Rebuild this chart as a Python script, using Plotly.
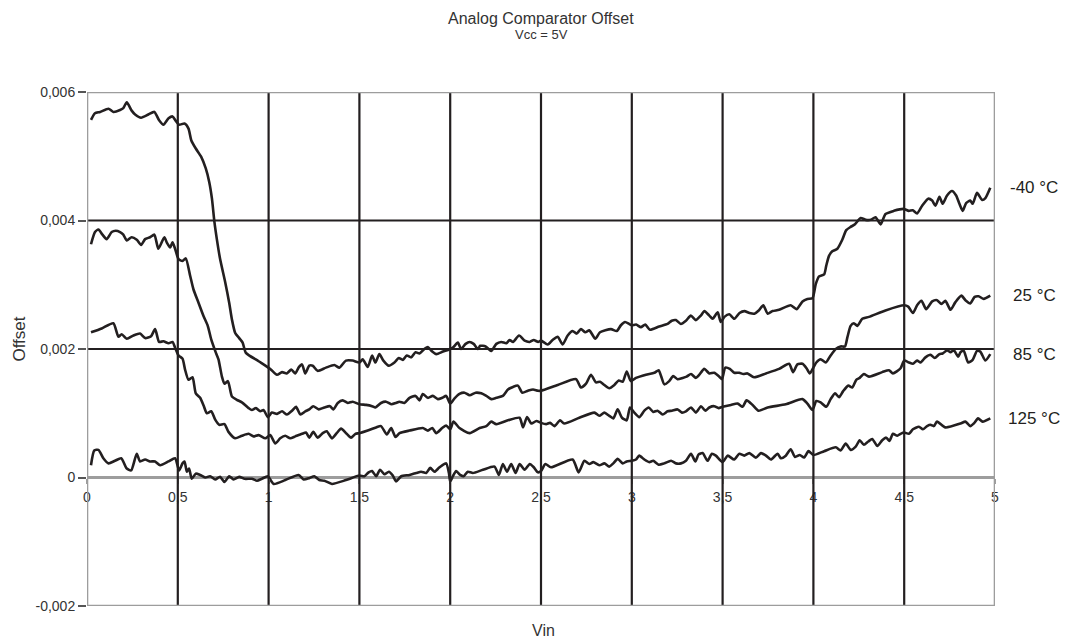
"""Analog comparator offset vs. input voltage for four temperatures."""

import plotly.graph_objects as go

LINE = "#231f20"
FRAME = "#9d9d9d"
TEXT = "#333333"
FONT = "Liberation Sans, Arial, sans-serif"

# -40 °C
x_m40 = [0.022, 0.044, 0.072, 0.118, 0.145, 0.182, 0.2, 0.219, 0.246, 0.265, 0.298, 0.338, 0.371, 0.397,
         0.421, 0.449, 0.471, 0.489, 0.507, 0.537, 0.559, 0.574, 0.599, 0.629, 0.654, 0.673, 0.688, 0.702,
         0.715, 0.733, 0.761, 0.783, 0.798, 0.816, 0.838, 0.857, 0.875, 0.945, 1.009, 1.046, 1.074, 1.1,
         1.125, 1.147, 1.165, 1.184, 1.202,
         1.224, 1.243, 1.27, 1.316, 1.362, 1.39, 1.426, 1.463, 1.5, 1.518, 1.546, 1.57, 1.588, 1.61, 1.632,
         1.662, 1.693, 1.717, 1.739, 1.761, 1.785, 1.809, 1.831, 1.858, 1.877, 1.901, 1.923, 1.96, 2.0,
         2.018, 2.042, 2.06, 2.085, 2.107, 2.129, 2.153, 2.165, 2.195, 2.226, 2.254, 2.281, 2.309, 2.327,
         2.346, 2.379, 2.41, 2.438, 2.46, 2.484,
         2.5, 2.537, 2.564, 2.592, 2.619, 2.647, 2.674, 2.696, 2.72, 2.744, 2.766, 2.799, 2.825, 2.885,
         2.917, 2.94, 2.963, 2.985, 3.0, 3.024, 3.05, 3.074, 3.1, 3.151, 3.197, 3.22, 3.243, 3.27, 3.298,
         3.325, 3.353, 3.38, 3.4, 3.427, 3.445, 3.473, 3.49, 3.51, 3.537, 3.565, 3.593, 3.62, 3.648, 3.675,
         3.699, 3.724, 3.748,
         3.775, 3.811, 3.875, 3.907, 3.94, 3.967, 3.995, 4.013, 4.031, 4.059, 4.071, 4.086, 4.104, 4.132,
         4.159, 4.181, 4.205, 4.229, 4.26, 4.288, 4.315, 4.342, 4.37, 4.397, 4.443, 4.498, 4.525, 4.547,
         4.571, 4.599, 4.632, 4.654, 4.672, 4.694, 4.712, 4.736, 4.763, 4.786, 4.804, 4.822, 4.841, 4.864,
         4.877, 4.901, 4.929, 4.947, 4.974]
y_m40 = [0.005565, 0.00567, 0.00569, 0.00574, 0.00569, 0.00572, 0.00575, 0.00584, 0.00571, 0.00565, 0.0056,
         0.00565, 0.00569, 0.00556, 0.00549, 0.00559, 0.00562, 0.00555, 0.00549, 0.00551, 0.00543, 0.00525,
         0.00512, 0.00499, 0.00481, 0.0046, 0.00434, 0.00397, 0.00371, 0.0034, 0.00304, 0.00272, 0.00246,
         0.00225, 0.00217, 0.0021, 0.00194, 0.00181, 0.00169, 0.0016, 0.00164, 0.00162, 0.00168, 0.00162,
         0.00171, 0.00176, 0.00162,
         0.00174, 0.00174, 0.00166, 0.00171, 0.00175, 0.00171, 0.00182, 0.00182, 0.00179, 0.00184, 0.00172,
         0.0019, 0.00179, 0.00192, 0.00182, 0.00174, 0.00179, 0.00186, 0.00183, 0.0019, 0.00187, 0.00195,
         0.00193, 0.002, 0.00203, 0.00196, 0.00192, 0.00196, 0.002, 0.00203, 0.0021, 0.002, 0.00208, 0.00211,
         0.00208, 0.002, 0.00205, 0.00204, 0.00197, 0.00208, 0.00211, 0.00209, 0.00214, 0.00211, 0.00221,
         0.00213, 0.00211, 0.00214, 0.00211,
         0.00213, 0.00207, 0.00214, 0.00219, 0.00207, 0.00221, 0.00228, 0.00224, 0.00231, 0.00226, 0.00229,
         0.00216, 0.00226, 0.00231, 0.00228, 0.00237, 0.00242, 0.00239, 0.00237, 0.00238, 0.00234, 0.00238,
         0.0023, 0.00235, 0.00239, 0.00244, 0.00245, 0.00239, 0.00244, 0.00252, 0.00245, 0.00252, 0.00259,
         0.00252, 0.00247, 0.00257, 0.00242, 0.0025, 0.00254, 0.00247, 0.00256, 0.00259, 0.00256, 0.00255,
         0.0026, 0.00268, 0.00255,
         0.00259, 0.00261, 0.00268, 0.00262, 0.00274, 0.00278, 0.00279, 0.00301, 0.00313, 0.00316, 0.0033,
         0.00345, 0.00352, 0.00356, 0.0037, 0.00385, 0.0039, 0.00394, 0.00404, 0.00401, 0.00401, 0.00405,
         0.00394, 0.0041, 0.00415, 0.00418, 0.00415, 0.00416, 0.00411, 0.00423, 0.00434, 0.00431, 0.00423,
         0.00437, 0.00426, 0.00439, 0.00446, 0.00439, 0.00426, 0.00415, 0.00427, 0.00431, 0.00426, 0.00443,
         0.00432, 0.00435, 0.00451]

# 25 °C
x_25 = [0.022, 0.044, 0.063, 0.085, 0.108, 0.136, 0.158, 0.182, 0.2, 0.219, 0.246, 0.274, 0.298, 0.32, 0.347,
        0.371, 0.393, 0.426, 0.439, 0.458, 0.471, 0.485, 0.504, 0.526, 0.544, 0.568, 0.586, 0.614, 0.642,
        0.665, 0.684, 0.71, 0.724, 0.743, 0.757, 0.776, 0.798, 0.825, 0.853, 0.89, 0.908, 0.93, 0.954, 0.972,
        0.996, 1.018, 1.046, 1.074, 1.101, 1.129, 1.151, 1.175, 1.202,
        1.224, 1.246, 1.276, 1.307, 1.338, 1.357, 1.381, 1.408, 1.436, 1.463, 1.5, 1.537, 1.57, 1.588, 1.619,
        1.647, 1.675, 1.702, 1.72, 1.748, 1.776, 1.809, 1.831, 1.849, 1.877, 1.904, 1.932, 1.956, 1.978, 2.0,
        2.024, 2.051, 2.079, 2.107, 2.14, 2.171, 2.199, 2.226, 2.254, 2.29, 2.318, 2.346, 2.373, 2.397, 2.428,
        2.456, 2.483,
        2.5, 2.592, 2.693, 2.72, 2.748, 2.775, 2.803, 2.825, 2.849, 2.876, 2.904, 2.928, 2.95, 2.972, 2.995,
        3.023, 3.078, 3.124, 3.148, 3.161, 3.179, 3.206, 3.228, 3.252, 3.28, 3.302, 3.326, 3.353, 3.372,
        3.399, 3.427, 3.454, 3.478, 3.496, 3.515, 3.54, 3.564, 3.592, 3.614, 3.637, 3.673, 3.739,
        3.811, 3.866, 3.888, 3.912, 3.94, 3.962, 3.98, 4.0, 4.016, 4.04, 4.068, 4.095, 4.123, 4.15, 4.174,
        4.187, 4.205, 4.223, 4.242, 4.269, 4.306, 4.397, 4.5, 4.522, 4.548, 4.571, 4.595, 4.621, 4.654, 4.681,
        4.705, 4.727, 4.755, 4.782, 4.815, 4.837, 4.864, 4.888, 4.91, 4.938, 4.974]
y_25 = [0.00363, 0.00382, 0.00386, 0.00378, 0.00371, 0.00382, 0.00384, 0.00382, 0.00378, 0.00369, 0.00374,
        0.0037, 0.00362, 0.00371, 0.00374, 0.00378, 0.00356, 0.00374, 0.00366, 0.00358, 0.00366, 0.00356,
        0.0034, 0.00337, 0.00341, 0.00314, 0.00293, 0.00272, 0.00251, 0.00236, 0.00215, 0.00194, 0.00184,
        0.00157, 0.00146, 0.0015, 0.00126, 0.00121, 0.00117, 0.00108, 0.00105, 0.00108, 0.00103, 0.00105,
        0.00094, 0.00101, 0.00099, 0.00103, 0.00098, 0.00104, 0.0011, 0.00098, 0.00103,
        0.00106, 0.00111, 0.00106, 0.00109, 0.00111, 0.00106, 0.00116, 0.0012, 0.00116, 0.00118, 0.00114,
        0.00113, 0.00111, 0.00109, 0.00116, 0.00118, 0.00114, 0.00116, 0.00118, 0.00116, 0.00124, 0.00127,
        0.0012, 0.0013, 0.00124, 0.00127, 0.00122, 0.00124, 0.00127, 0.00115, 0.00123, 0.0013, 0.00132,
        0.00128, 0.00132, 0.00131, 0.00127, 0.00122, 0.00124, 0.00127, 0.00137, 0.00141, 0.00143, 0.00132,
        0.00135, 0.00137, 0.00135,
        0.00135, 0.00144, 0.00153, 0.0014, 0.00146, 0.0016, 0.00148, 0.00149, 0.00144, 0.00139, 0.00144,
        0.00151, 0.00149, 0.00165, 0.0015, 0.00155, 0.0016, 0.00163, 0.00167, 0.00158, 0.00145, 0.0015,
        0.00158, 0.00153, 0.00155, 0.00157, 0.00161, 0.00155, 0.0016, 0.00169, 0.00162, 0.00163, 0.00158,
        0.00153, 0.00171, 0.00169, 0.00163, 0.00163, 0.00161, 0.00162, 0.00156, 0.00162,
        0.00169, 0.00177, 0.00164, 0.00176, 0.00177, 0.0017, 0.00162, 0.00171, 0.00179, 0.00184, 0.00179,
        0.0019, 0.002, 0.00204, 0.00204, 0.00218, 0.00236, 0.0024, 0.00236, 0.00247, 0.0025, 0.0026, 0.00268,
        0.00266, 0.00256, 0.00268, 0.00275, 0.00262, 0.00274, 0.00276, 0.0027, 0.00275, 0.00261, 0.00273,
        0.00283, 0.00276, 0.00271, 0.00281, 0.00282, 0.00278, 0.00283]

# 85 °C
x_85 = [0.022, 0.081, 0.145, 0.173, 0.191, 0.219, 0.256, 0.292, 0.32, 0.353, 0.375, 0.397, 0.421, 0.449,
        0.471, 0.485, 0.504, 0.526, 0.54, 0.559, 0.581, 0.599, 0.623, 0.642, 0.66, 0.684, 0.706, 0.728,
        0.757, 0.779, 0.816, 0.853, 0.89, 0.917, 0.945, 0.982, 1.009, 1.037, 1.064, 1.092, 1.119, 1.147,
        1.184, 1.206,
        1.224, 1.246, 1.27, 1.298, 1.32, 1.349, 1.375, 1.399, 1.43, 1.454, 1.478, 1.5, 1.546, 1.592, 1.619,
        1.651, 1.675, 1.699, 1.721, 1.776, 1.849, 1.877, 1.901, 1.923, 1.956, 1.978, 2.0, 2.018, 2.051,
        2.107, 2.162, 2.199, 2.226, 2.254, 2.318, 2.382, 2.401, 2.423, 2.447, 2.474,
        2.5, 2.528, 2.55, 2.574, 2.605, 2.628, 2.711, 2.794, 2.821, 2.849, 2.876, 2.898, 2.922, 2.946, 2.972,
        2.99, 3.014, 3.041, 3.069, 3.093, 3.118, 3.142, 3.17, 3.197, 3.221, 3.252, 3.276, 3.298, 3.326,
        3.353, 3.381, 3.405, 3.427, 3.454, 3.478, 3.5, 3.546, 3.583, 3.61, 3.632, 3.665, 3.698, 3.748,
        3.848, 3.94, 3.967, 3.995, 4.016, 4.04, 4.071, 4.095, 4.119, 4.141, 4.163, 4.192, 4.214, 4.236, 4.255,
        4.278, 4.306, 4.379, 4.416, 4.438, 4.48, 4.5, 4.526, 4.548, 4.571, 4.59, 4.617, 4.645, 4.668, 4.694,
        4.712, 4.736, 4.755, 4.773, 4.797, 4.81, 4.828, 4.852, 4.877, 4.901, 4.919, 4.947, 4.974]
y_85 = [0.00226, 0.00232, 0.0024, 0.00219, 0.00223, 0.00216, 0.00221, 0.00224, 0.00217, 0.0022, 0.00231,
        0.00211, 0.00212, 0.00209, 0.00211, 0.00202, 0.0019, 0.00185, 0.00168, 0.00152, 0.00156, 0.00131,
        0.00124, 0.00112, 0.001, 0.00103, 0.0009, 0.00082, 0.00083, 0.00071, 0.00061, 0.00065, 0.00068,
        0.00064, 0.00066, 0.00061, 0.00066, 0.00053, 0.00061, 0.00065, 0.00061, 0.00064, 0.00068, 0.0007,
        0.00062, 0.00071, 0.00062, 0.00069, 0.00072, 0.00061, 0.00069, 0.00076, 0.00068, 0.00062, 0.00068,
        0.00069, 0.00073, 0.00078, 0.0008, 0.00067, 0.00077, 0.00063, 0.00069, 0.00073, 0.00077, 0.00073,
        0.00077, 0.00069, 0.00077, 0.00081, 0.00075, 0.00087, 0.00077, 0.00069, 0.00077, 0.0008, 0.00087,
        0.00083, 0.00089, 0.00093, 0.00078, 0.00094, 0.00084, 0.00088,
        0.00085, 0.00083, 0.00085, 0.0008, 0.00089, 0.00084, 0.00093, 0.00101, 0.00096, 0.00101, 0.00096,
        0.00092, 0.00106, 0.00093, 0.00089, 0.00109, 0.00101, 0.00094, 0.00104, 0.00109, 0.00102, 0.00104,
        0.00098, 0.00103, 0.00104, 0.00106, 0.00101, 0.00103, 0.00109, 0.00101, 0.00111, 0.00104, 0.00109,
        0.00111, 0.00108, 0.0011, 0.00113, 0.00115, 0.0011, 0.0012, 0.00113, 0.00104, 0.00109,
        0.00114, 0.00122, 0.00115, 0.00105, 0.00119, 0.00117, 0.0011, 0.00122, 0.00131, 0.00125, 0.00134,
        0.00143, 0.0014, 0.00152, 0.00155, 0.00161, 0.00157, 0.00164, 0.00167, 0.00162, 0.0017, 0.00182,
        0.00179, 0.00177, 0.00182, 0.00179, 0.00187, 0.00191, 0.00186, 0.00192, 0.00193, 0.00198, 0.00195,
        0.00198, 0.00188, 0.00195, 0.00197, 0.00179, 0.00183, 0.00197, 0.00196, 0.00182, 0.00192]

# 125 °C
x_125 = [0.022, 0.04, 0.063, 0.09, 0.118, 0.154, 0.188, 0.219, 0.243, 0.274, 0.292, 0.32, 0.347, 0.375,
         0.403, 0.449, 0.485, 0.507, 0.526, 0.537, 0.55, 0.562, 0.577, 0.599, 0.623, 0.651, 0.678, 0.706,
         0.733, 0.757, 0.783, 0.807, 0.838, 0.868, 0.908, 0.936, 0.963, 0.996, 1.028, 1.092, 1.165, 1.193,
         1.224, 1.252, 1.279, 1.307, 1.349, 1.426, 1.5, 1.528, 1.551, 1.57, 1.592, 1.614, 1.638, 1.662, 1.684,
         1.702, 1.73, 1.776, 1.813, 1.84, 1.868, 1.89, 1.914, 1.938, 1.956, 1.978, 1.993, 2.0, 2.015, 2.033,
         2.055, 2.074, 2.097, 2.125, 2.18, 2.244, 2.268, 2.29, 2.313, 2.336, 2.36, 2.382, 2.41, 2.438, 2.46,
         2.483,
         2.5, 2.524, 2.555, 2.674, 2.707, 2.739, 2.766, 2.788, 2.821, 2.849, 2.876, 2.898, 2.922, 2.95, 2.972,
         3.0, 3.023, 3.041, 3.069, 3.096, 3.118, 3.148, 3.179, 3.216, 3.243, 3.271, 3.298, 3.326, 3.35,
         3.368, 3.39, 3.417, 3.441, 3.463, 3.5, 3.528, 3.564, 3.592, 3.619, 3.647, 3.683, 3.711, 3.739,
         3.766, 3.803,
         3.821, 3.848, 3.875, 3.899, 3.925, 3.949, 3.973, 4.0, 4.059, 4.123, 4.15, 4.178, 4.205, 4.233, 4.255,
         4.278, 4.302, 4.324, 4.352, 4.379, 4.401, 4.419, 4.438, 4.462, 4.48, 4.5, 4.526, 4.548, 4.581,
         4.603, 4.626, 4.645, 4.663, 4.681, 4.727, 4.81, 4.837, 4.864, 4.883, 4.907, 4.932, 4.974]
y_125 = [0.00019, 0.00042, 0.00043, 0.0003, 0.00022, 0.00026, 0.0003, 0.00014, 0.00011, 0.00037, 0.00025,
         0.00028, 0.00025, 0.00025, 0.00019, 0.00025, 0.0003, 0.00011, 0.00022, 0.00025, 0.00009, 0.00014,
         -0.00002, 0.00006, 0.00004, 0.0, 0.00002, -0.00003, 0.00001, -0.00007, 0.00002, -0.00003, 0.00001,
         -0.00002, -0.00002, -0.00005, -0.00002, 0.00002, -0.0001, -0.00004, 0.00004, -0.00003,
         -0.00001, 0.00002, -0.00004, -0.00005, -0.0001, -0.00004, 0.00003, 0.00002, 0.00008, 0.0001, 0.00002,
         0.00012, 0.00005, 0.00009, 0.00003, -0.00006, 0.00002, 0.00004, 0.00007, 0.00009, 0.00007, 0.00015,
         0.00009, 0.00015, 0.00019, 0.00022, 0.00007, -0.00006, 0.00002, 0.0001, 0.00004, 0.00002, 0.00009,
         0.00007, 0.00012, 0.00017, 0.00004, 0.00021, 0.00009, 0.00021, 0.00007, 0.00021, 0.00012, 0.00021,
         0.00016, 0.00008,
         0.0001, 0.00021, 0.00016, 0.00028, 0.00008, 0.00026, 0.00021, 0.00024, 0.00019, 0.00022, 0.00017,
         0.00022, 0.00029, 0.00022, 0.00025, 0.00026, 0.00028, 0.00034, 0.00028, 0.00024, 0.00026, 0.0002,
         0.00022, 0.00026, 0.00022, 0.00022, 0.00026, 0.00037, 0.00025, 0.00036, 0.00038, 0.00026, 0.00037,
         0.00034, 0.00024, 0.00034, 0.00028, 0.00037, 0.00034, 0.00038, 0.00031, 0.00038, 0.00034, 0.00028,
         0.00037,
         0.0003, 0.00034, 0.00044, 0.00032, 0.00035, 0.00031, 0.00041, 0.00035, 0.00041, 0.00047, 0.00042,
         0.00053, 0.00043, 0.00048, 0.00058, 0.00051, 0.00056, 0.0006, 0.00049, 0.00058, 0.00062, 0.00057,
         0.00068, 0.00065, 0.00068, 0.0007, 0.00068, 0.00075, 0.00079, 0.00075, 0.0008, 0.00082, 0.0008,
         0.00087, 0.00078, 0.00084, 0.00087, 0.0008, 0.00084, 0.00092, 0.00087, 0.00092]

series = [
    ("-40 °C", x_m40, y_m40),
    ("25 °C", x_25, y_25),
    ("85 °C", x_85, y_85),
    ("125 °C", x_125, y_125),
]

x_ticks = [0, 0.5, 1, 1.5, 2, 2.5, 3, 3.5, 4, 4.5, 5]
x_labels = ["0", "0,5", "1", "1,5", "2", "2,5", "3", "3,5", "4", "4,5", "5"]
y_ticks = [-0.002, 0, 0.002, 0.004, 0.006]
y_labels = ["-0,002", "0", "0,002", "0,004", "0,006"]

fig = go.Figure()
for name, xs, ys in series:
    fig.add_trace(go.Scatter(
        x=xs, y=ys, name=name, mode="lines",
        line=dict(color=LINE, width=2.6, shape="spline", smoothing=0.6),
        hoverinfo="skip",
    ))
    # label to the right of the plot, level with the curve's last point
    fig.add_annotation(x=1.043, xref="paper", y=ys[-1], yref="y", text=name, showarrow=False,
                       xanchor="center", yanchor="middle",
                       font=dict(size=17, color=LINE, family=FONT))

# black grid lines, drawn over the tick labels like the original
shapes = []
for xv in x_ticks[1:-1]:
    shapes.append(dict(type="line", xref="x", yref="y", x0=xv, x1=xv, y0=-0.002, y1=0.006,
                       line=dict(color=LINE, width=2.2), layer="above"))
for yv in [0.002, 0.004]:
    shapes.append(dict(type="line", xref="x", yref="y", x0=0, x1=5, y0=yv, y1=yv,
                       line=dict(color=LINE, width=2.2), layer="above"))
shapes.append(dict(type="rect", xref="x", yref="y", x0=0, x1=5, y0=-0.002, y1=0.006,
                   line=dict(color=FRAME, width=2.6), layer="above"))

# the page body adds an 8px margin, so the figure is 8px smaller and the margins shift
fig.update_layout(
    width=1068, height=634,
    margin=dict(l=79, r=81, t=84, b=36),
    paper_bgcolor="white", plot_bgcolor="white",
    showlegend=False,
    font=dict(family=FONT, color=TEXT),
    shapes=shapes,
    xaxis=dict(
        range=[0, 5], tickvals=x_ticks, ticktext=x_labels,
        anchor="free", position=0.25,
        showgrid=False, zeroline=False, showline=False,
        ticks="outside", ticklen=5, tickwidth=1.5, tickcolor=FRAME,
        ticklabelstandoff=2,
        tickfont=dict(size=14, color=TEXT, family=FONT),
    ),
    yaxis=dict(
        range=[-0.002, 0.006], tickvals=y_ticks, ticktext=y_labels,
        showgrid=False, zeroline=True, zerolinecolor=FRAME, zerolinewidth=2.6,
        showline=False,
        ticks="outside", ticklen=8, tickwidth=1.5, tickcolor="#555555",
        tickfont=dict(size=14, color=TEXT, family=FONT),
    ),
    annotations=list(fig.layout.annotations) + [
        dict(text="Analog Comparator Offset", x=0.5, y=1.143, xref="paper", yref="paper",
             xanchor="center", yanchor="middle", showarrow=False,
             font=dict(size=16, color=TEXT, family=FONT)),
        dict(text="Vcc = 5V", x=0.5, y=1.112, xref="paper", yref="paper",
             xanchor="center", yanchor="middle", showarrow=False,
             font=dict(size=13, color=TEXT, family=FONT)),
        dict(text="Vin", x=0.503, y=-0.047, xref="paper", yref="paper",
             xanchor="center", yanchor="middle", showarrow=False,
             font=dict(size=16, color=TEXT, family=FONT)),
        dict(text="Offset", x=-0.074, y=0.52, xref="paper", yref="paper", textangle=-90,
             xanchor="center", yanchor="middle", showarrow=False,
             font=dict(size=17, color=TEXT, family=FONT)),
    ],
)

fig.write_html("out.html")
